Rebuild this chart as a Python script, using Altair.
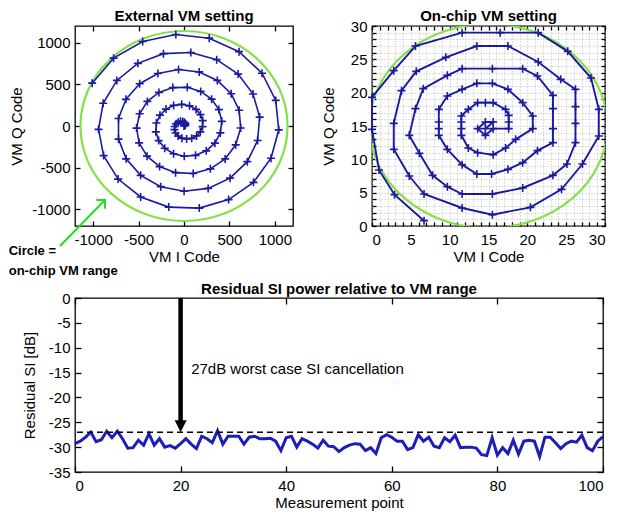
import altair as alt
import pandas as pd

# ---------------- values ----------------
# External VM setting: spiral of 101 measurement points (I code, Q code)
ext_i = [0, 10, 16, 14, 3, -15, -39, -64, -87, -102,
         -105, -93, -65, -23, 29, 85, 138, 180, 204, 206,
         181, 132, 61, -25, -114, -198, -265, -304, -310, -279,
         -212, -115, 3, 127, 245, 340, 400, 416, 384, 304,
         184, 36, -123, -276, -403, -489, -522, -494, -407, -269,
         -93, 101, 290, 453, 569, 624, 607, 519, 367, 167,
         -60, -287, -488, -639, -721, -721, -637, -477, -256, 1,
         266, 507, 697, 810, 833, 760, 596, 360, 75, -226,
         -508, -739, -890, -941, -885, -725, -477, -168, 168, 491,
         765, 958, 1043, 1010, 859, 606, 278, -90, -455, -775,
         -1011]
ext_q = [0, 5, 17, 31, 45, 55, 56, 46, 26, -6,
         -43, -84, -120, -146, -156, -148, -119, -70, -7, 65,
         137, 199, 242, 260, 247, 203, 130, 36, -70, -175,
         -267, -333, -363, -352, -298, -206, -83, 56, 197, 322,
         415, 464, 461, 403, 295, 147, -25, -202, -362, -487,
         -560, -570, -514, -395, -226, -24, 189, 387, 547, 649,
         678, 630, 507, 320, 90, -157, -394, -592, -728, -783,
         -749, -626, -428, -174, 107, 384, 623, 796, 882, 868,
         752, 547, 273, -40, -355, -637, -852, -973, -985, -883,
         -676, -387, -46, 307, 633, 892, 1054, 1098, 1014, 814,
         514]

# On-chip VM setting (I code, Q code)
chip_i = [14.6, 15.6, 14.6, 13.6, 14.6, 15.6, 17.6, 17.6, 17.6,
          17.2, 15.6, 14.6, 13.6, 12.4, 11.5, 11.5, 11.5, 11.5, 12.4, 13.6, 15.6, 17.2, 18.5,
          20.7, 20.7, 19.4, 17.5, 15.5, 13.5, 11.6, 9.7, 8.6, 8.6, 8.6, 8.6, 9.7, 11.6, 13.5, 15.4, 17.5, 19.4, 21.3,
          23.3, 23.3, 23.3, 23.3, 21.3, 19.4, 15.5, 11.6, 9.7, 6.6, 5.6, 4.8, 6.1, 7.8, 9.7, 11.6, 15.5, 19.4, 23.3, 25.1,
          26.2, 26.2, 26.2, 26.2, 24.3, 21.4, 17.5, 13.5, 9.5, 5.7, 3.8, 2.8, 2.8, 4.8, 6.7, 11.6, 15.5, 20.4, 24.4, 27.1,
          29.2, 29.2, 28.2, 25.2, 21.4, 16.5, 11.6, 5.6, 2.8, 0.0, 0.0, 0.9, 2.9, 6.7]
chip_q = [14.6, 15.6, 15.6, 14.6, 13.6, 14.6, 14.6, 15.6, 16.6,
          17.5, 18.5, 18.5, 18.5, 17.5, 16.5, 15.6, 14.6, 13.6, 11.7, 11.0, 10.7, 11.7, 13.0,
          14.6, 16.5, 18.5, 20.5, 21.4, 21.4, 20.5, 19.5, 17.5, 15.6, 14.6, 13.6, 11.5, 9.2, 7.8, 7.8, 8.5, 9.5, 11.3,
          12.5, 14.6, 17.6, 19.6, 22.5, 23.6, 23.6, 23.6, 22.6, 20.6, 17.6, 13.6, 10.9, 7.6, 5.9, 4.8, 4.8, 5.7, 7.6, 9.3,
          12.5, 15.4, 17.9, 20.5, 22.0, 24.6, 27.0, 27.0, 25.3, 23.2, 20.3, 15.4, 11.5, 7.5, 4.8, 2.7, 1.7, 2.8, 5.5, 9.3,
          13.5, 17.5, 22.2, 26.2, 29.0, 29.0, 29.0, 27.0, 23.3, 19.3, 14.5, 8.4, 4.7, 0.8]

# Residual SI power per measurement point [dB]
si_db = [-29.3, -28.8, -28.0, -27.0, -28.9, -28.5, -26.8, -28.1, -26.8, -28.3,
         -30.2, -30.1, -28.6, -29.6, -27.3, -29.6, -28.3, -30.0, -29.7, -30.2,
         -29.3, -28.3, -29.4, -30.3, -27.8, -28.3, -29.1, -26.7, -29.4, -27.8,
         -27.8, -27.8, -29.4, -28.0, -27.8, -28.3, -28.3, -28.2, -28.8, -30.7,
         -28.1, -27.8, -30.0, -28.3, -28.8, -29.4, -30.2, -28.6, -29.8, -29.9,
         -30.9, -30.1, -29.6, -29.3, -29.4, -30.7, -30.1, -31.3, -28.1, -27.5,
         -28.0, -28.8, -28.8, -30.5, -30.1, -27.5, -28.8, -28.0, -29.8, -30.1,
         -28.1, -28.9, -27.6, -30.1, -30.0, -30.0, -30.2, -31.5, -31.7, -28.1,
         -31.6, -30.1, -31.3, -28.6, -31.4, -28.8, -28.6, -28.8, -31.9, -28.0,
         -28.0, -29.1, -30.3, -29.3, -28.8, -29.0, -27.6, -30.1, -30.7, -28.8,
         -27.9]
si_pt = list(range(len(si_db)))

# axes / annotations
ext_ticks = [-1000, -500, 0, 500, 1000]
ext_frame = [-1200, 1200]
ext_radius = 1140
chip_ticks = list(range(0, 31))
chip_frame = [0, 30]
chip_center = [15, 15]
chip_radius = 15.3
si_xticks = [0, 20, 40, 60, 80, 100]
si_yticks = [0, -5, -10, -15, -20, -25, -30, -35]
si_frame = [-35, 0]
worst_db = -27
arrow_x = 20
arrow_head_y = -25.8
note_x, note_y = 22, -14.3
note_text = "27dB worst case SI cancellation"
green_tail = [-1365, -1440]
green_tip = [-870, -888]
circle_note = ["Circle =", "on-chip VM range"]
circle_note_x = -1930
circle_note_y = [-1500, -1740]

# ---------------- style / layout ----------------
FONT = "Liberation Sans"
BLUE = "#1a1aa0"
BLUE2 = "#1d1db8"
GREEN_C = "#86e04a"
GREEN_A = "#22dd22"
A_W, A_H = 218, 200
B_W, B_H = 233, 200
C_W, C_H = 528, 174
CROSS = "M -1 0 L 1 0 M 0 -1 L 0 1"
VHEAD = "M -1 1 L 0 0 L 1 1"
TRI_DOWN = "M -1 -1 L 1 -1 L 0 1 Z"
PLAIN = "'' + datum.value"
FIVE = "datum.value % 5 === 0 ? '' + datum.value : ''"
FRAME = alt.ViewBackground(stroke="black", strokeWidth=1.3)


def ellipse(rx, ry):
    k = ry / rx
    return f"M -1 0 A 1 {k:.4f} 0 1 0 1 0 A 1 {k:.4f} 0 1 0 -1 0 Z"


def ax(**kw):
    base = dict(domain=False, grid=False, ticks=True, tickColor="black", tickWidth=1.3,
                labelFont=FONT, labelFontSize=15, labelColor="black", labelOverlap=False,
                titleFont=FONT, titleFontSize=15, titleFontWeight="normal", titleColor="black")
    base.update(kw)
    return alt.Axis(**base)


def mirror(values, orient, t):
    return ax(values=values, orient=orient, offset=-t, tickSize=t, labels=False, title=None)


# ---------------- panel A: external VM ----------------
span = ext_frame[1] - ext_frame[0]
a_x = alt.Scale(domain=ext_frame, nice=False, zero=False)
a_y = alt.Scale(domain=ext_frame, nice=False, zero=False)
ext_df = pd.DataFrame({"k": list(range(len(ext_i))), "i": ext_i, "q": ext_q})

a_rx = ext_radius * A_W / span
a_ry = ext_radius * A_H / span
a_circ = alt.Chart(pd.DataFrame({"x": [0], "y": [0]})).mark_point(
    shape=ellipse(a_rx, a_ry), size=(2 * a_rx) ** 2, filled=False, color=GREEN_C,
    strokeWidth=2.2, opacity=1).encode(
    x=alt.X("x:Q", scale=a_x, axis=None), y=alt.Y("y:Q", scale=a_y, axis=None))
a_line = alt.Chart(ext_df).mark_line(color=BLUE, strokeWidth=1.6).encode(
    x=alt.X("i:Q", scale=a_x, axis=ax(values=ext_ticks, orient="bottom", offset=-5, tickSize=5,
                                       labelExpr=PLAIN, labelPadding=6, title="VM I Code", titlePadding=2)),
    y=alt.Y("q:Q", scale=a_y, axis=ax(values=ext_ticks, orient="left", offset=-5, tickSize=5,
                                       labelExpr=PLAIN, labelPadding=5, title="VM Q Code", titlePadding=7)),
    order="k:Q")
a_pts = alt.Chart(ext_df).mark_point(shape=CROSS, filled=False, color=BLUE, strokeWidth=1.6,
                                     size=64, opacity=1).encode(
    x=alt.X("i:Q", scale=a_x, axis=mirror(ext_ticks, "top", 5)),
    y=alt.Y("q:Q", scale=a_y, axis=mirror(ext_ticks, "right", 5)))
a_arrow = alt.Chart(pd.DataFrame({"x": [green_tail[0]], "y": [green_tail[1]],
                                  "x2": [green_tip[0]], "y2": [green_tip[1]]})).mark_rule(
    color=GREEN_A, strokeWidth=2).encode(
    x=alt.X("x:Q", scale=a_x, axis=None), y=alt.Y("y:Q", scale=a_y, axis=None),
    x2="x2:Q", y2="y2:Q")
a_head = alt.Chart(pd.DataFrame({"x": [green_tip[0]], "y": [green_tip[1]]})).mark_point(
    shape=VHEAD, angle=45, filled=False, color=GREEN_A, strokeWidth=2, size=150, opacity=1).encode(
    x=alt.X("x:Q", scale=a_x, axis=None), y=alt.Y("y:Q", scale=a_y, axis=None))
a_note = alt.Chart(pd.DataFrame({"x": [circle_note_x] * 2, "y": circle_note_y, "t": circle_note})).mark_text(
    align="left", baseline="middle", font=FONT, fontSize=13, fontWeight="bold", color="black").encode(
    x=alt.X("x:Q", scale=a_x, axis=None), y=alt.Y("y:Q", scale=a_y, axis=None), text="t:N")

A = alt.layer(a_circ, a_line, a_pts, a_arrow, a_head, a_note).resolve_axis(
    x="independent", y="independent").properties(
    width=A_W, height=A_H,
    title=alt.TitleParams("External VM setting", offset=1),
    view=FRAME)

# ---------------- panel B: on-chip VM ----------------
b_x = alt.Scale(domain=chip_frame, nice=False, zero=False)
b_y = alt.Scale(domain=chip_frame, nice=False, zero=False)
chip_df = pd.DataFrame({"k": list(range(len(chip_i))), "i": chip_i, "q": chip_q})
b_span = chip_frame[1] - chip_frame[0]
b_rx = chip_radius * B_W / b_span
b_ry = chip_radius * B_H / b_span

b_circ = alt.Chart(pd.DataFrame({"x": [chip_center[0]], "y": [chip_center[1]]})).mark_point(
    shape=ellipse(b_rx, b_ry), size=(2 * b_rx) ** 2, filled=False, color=GREEN_C,
    strokeWidth=2.2, opacity=1, clip=True).encode(
    x=alt.X("x:Q", scale=b_x, axis=None), y=alt.Y("y:Q", scale=b_y, axis=None))
b_line = alt.Chart(chip_df).mark_line(color=BLUE, strokeWidth=1.9).encode(
    x=alt.X("i:Q", scale=b_x, axis=ax(values=chip_ticks, orient="bottom", offset=-4, tickSize=4,
                                       labelExpr=FIVE, labelFlush=True, labelPadding=6,
                                       grid=True, gridColor="#bdbdbd", gridDash=[1, 2],
                                       title="VM I Code", titlePadding=2)),
    y=alt.Y("q:Q", scale=b_y, axis=ax(values=chip_ticks, orient="left", offset=-4, tickSize=4,
                                       labelExpr=FIVE, labelPadding=5,
                                       grid=True, gridColor="#bdbdbd", gridDash=[1, 2],
                                       title="VM Q Code", titlePadding=14)),
    order="k:Q")
b_pts = alt.Chart(chip_df).mark_point(shape=CROSS, filled=False, color=BLUE, strokeWidth=1.6,
                                      size=64, opacity=1).encode(
    x=alt.X("i:Q", scale=b_x, axis=mirror(chip_ticks, "top", 4)),
    y=alt.Y("q:Q", scale=b_y, axis=mirror(chip_ticks, "right", 4)))

B = alt.layer(b_circ, b_line, b_pts).resolve_axis(x="independent", y="independent").properties(
    width=B_W, height=B_H,
    title=alt.TitleParams("On-chip VM setting", offset=-5),
    view=FRAME)

# ---------------- panel C: residual SI ----------------
c_x = alt.Scale(domain=[si_pt[0], si_pt[-1]], nice=False, zero=False)
c_y = alt.Scale(domain=si_frame, nice=False, zero=False)
si_df = pd.DataFrame({"pt": si_pt, "db": si_db})

c_line = alt.Chart(si_df).mark_line(color=BLUE2, strokeWidth=3).encode(
    x=alt.X("pt:Q", scale=c_x, axis=ax(values=si_xticks, orient="bottom", offset=-6, tickSize=6,
                                        labelExpr=PLAIN, labelFlush=True, labelPadding=6,
                                        title="Measurement point", titlePadding=2)),
    y=alt.Y("db:Q", scale=c_y, axis=ax(values=si_yticks, orient="left", offset=-6, tickSize=6,
                                        labelExpr=PLAIN, labelPadding=5,
                                        title="Residual SI [dB]", titlePadding=11)))
c_dash = alt.Chart(pd.DataFrame({"y": [worst_db]})).mark_rule(
    color="black", strokeDash=[6, 4], strokeWidth=1.4).encode(
    y=alt.Y("y:Q", scale=c_y, axis=None))
c_shaft = alt.Chart(pd.DataFrame({"x": [arrow_x], "y": [si_frame[1]], "y2": [arrow_head_y]})).mark_rule(
    color="black", strokeWidth=4.5).encode(
    x=alt.X("x:Q", scale=c_x, axis=mirror(si_xticks, "top", 6)),
    y=alt.Y("y:Q", scale=c_y, axis=mirror(si_yticks, "right", 6)), y2="y2:Q")
c_head = alt.Chart(pd.DataFrame({"x": [arrow_x], "y": [arrow_head_y]})).mark_point(
    shape=TRI_DOWN, filled=True, color="black", size=144, opacity=1).encode(
    x=alt.X("x:Q", scale=c_x, axis=None), y=alt.Y("y:Q", scale=c_y, axis=None))
c_note = alt.Chart(pd.DataFrame({"x": [note_x], "y": [note_y], "t": [note_text]})).mark_text(
    align="left", baseline="middle", font=FONT, fontSize=15, color="black").encode(
    x=alt.X("x:Q", scale=c_x, axis=None), y=alt.Y("y:Q", scale=c_y, axis=None), text="t:N")

C = alt.layer(c_line, c_dash, c_shaft, c_head, c_note).resolve_axis(
    x="independent", y="independent").properties(
    width=C_W, height=C_H,
    title=alt.TitleParams("Residual SI power relative to VM range", offset=2, dy=8),
    view=FRAME)

top = alt.hconcat(A, B, spacing=25)
chart = alt.vconcat(top, C, spacing=2).properties(
    padding={"left": 0, "top": 0, "right": 0, "bottom": 0}
).configure_title(font=FONT, fontSize=15, fontWeight="bold", color="black", anchor="middle")

chart.save("out.html", embed_options={"renderer": "svg", "actions": False})
